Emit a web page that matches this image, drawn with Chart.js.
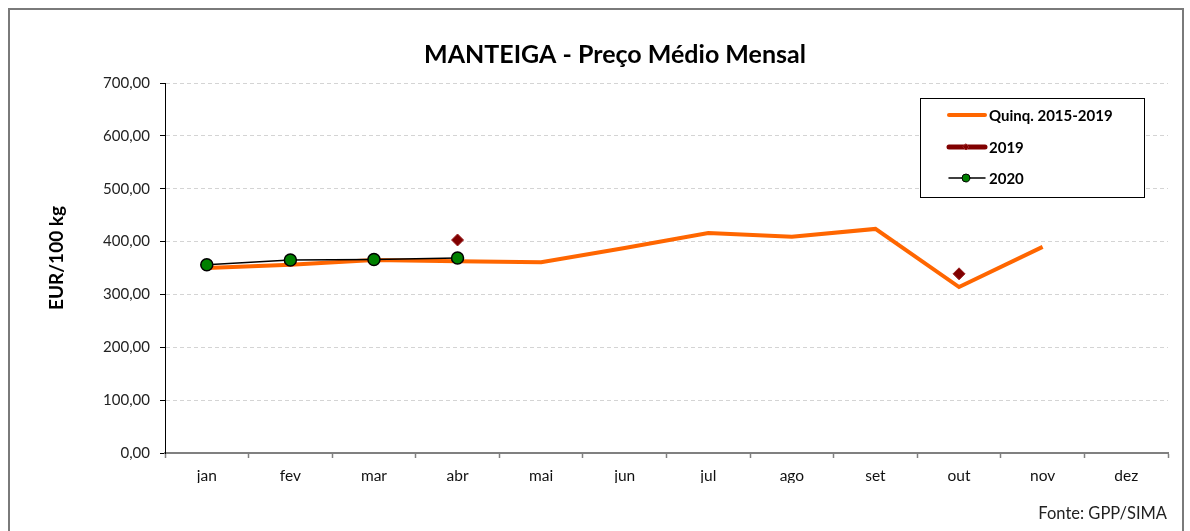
<!DOCTYPE html>
<html>
<head>
  <title>Manteiga - Preço Médio Mensal</title>
  <style>
    body { margin: 0; background: #fff; }
    #wrap { position: relative; width: 1190px; height: 531px; overflow: hidden; }
    #frame {
      position: absolute; left: 8px; top: 8px; width: 1176px; height: 560px;
      border: 2px solid #7a7a7a; box-sizing: border-box;
    }
    #canvas { position: absolute; left: 0; top: 0; }
  </style>
</head>
<body>
  <div id="wrap">
    <div id="frame"></div>
    <canvas id="canvas" width="1190" height="531"></canvas>
  </div>
  <script src="https://cdn.jsdelivr.net/npm/chart.js"></script>
  <script>
    const months = ['jan', 'fev', 'mar', 'abr', 'mai', 'jun', 'jul', 'ago', 'set', 'out', 'nov', 'dez'];
    // valores (EUR/100 kg)
    const quinq = [350, 356, 365, 363, 361, 388, 416, 409, 424, 314, 390, null];
    const y2019 = [null, null, null, 403, null, null, null, null, null, 339, null, null];
    const y2020 = [356, 365, 366, 369, null, null, null, null, null, null, null, null];
    const yTicks = [0, 100, 200, 300, 400, 500, 600, 700];

    const FONT = 'Lato, "Open Sans", sans-serif';
    const fmt = v => v.toFixed(2).replace('.', ',');

    // legenda, título e textos extra desenhados à mão
    const extras = {
      id: 'extras',
      afterDraw(chart) {
        const ctx = chart.ctx;
        ctx.save();
        ctx.fillStyle = '#000';
        ctx.font = 'bold 25px ' + FONT;
        ctx.textAlign = 'center';
        ctx.textBaseline = 'middle';
        ctx.fillText('MANTEIGA - Preço Médio Mensal', 615, 55);

        ctx.font = 'bold 19px ' + FONT;
        ctx.translate(57, 258);
        ctx.rotate(-Math.PI / 2);
        ctx.fillText('EUR/100 kg', 0, 0);
        ctx.setTransform(1, 0, 0, 1, 0, 0);

        ctx.font = '16.5px ' + FONT;
        ctx.textAlign = 'right';
        ctx.fillStyle = '#222';
        ctx.fillText('Fonte: GPP/SIMA', 1167, 514);

        // caixa da legenda
        ctx.fillStyle = '#fff';
        ctx.fillRect(920, 98, 224, 99);
        ctx.strokeStyle = '#000';
        ctx.lineWidth = 1;
        ctx.strokeRect(920.5, 98.5, 224, 99);

        const rows = [115, 147, 178];
        const ds = chart.data.datasets;
        ctx.font = 'bold 15px ' + FONT;
        ctx.textAlign = 'left';
        ds.forEach((d, i) => {
          const y = rows[i];
          ctx.lineCap = 'round';
          ctx.strokeStyle = d.legendColor;
          ctx.lineWidth = d.legendWidth;
          ctx.beginPath();
          ctx.moveTo(949, y);
          ctx.lineTo(985, y);
          ctx.stroke();
          if (d.pointRadius) {
            ctx.fillStyle = d.pointBackgroundColor;
            ctx.strokeStyle = d.pointBorderColor;
            ctx.lineWidth = 1;
            ctx.beginPath();
            if (d.pointStyle === 'rectRot') {
              ctx.moveTo(966, y - 3); ctx.lineTo(969, y); ctx.lineTo(966, y + 3); ctx.lineTo(963, y); ctx.closePath();
            } else {
              ctx.arc(966, y, 4, 0, Math.PI * 2);
            }
            ctx.fill();
            ctx.stroke();
          }
          ctx.fillStyle = '#000';
          ctx.fillText(d.label, 989, y + 1);
        });
        ctx.restore();
      }
    };

    const chart = new Chart(document.getElementById('canvas'), {
      type: 'line',
      data: {
        labels: months,
        datasets: [
          {
            label: 'Quinq. 2015-2019',
            data: quinq,
            borderColor: '#ff6600',
            borderWidth: 4,
            pointRadius: 0,
            legendColor: '#ff6600',
            legendWidth: 4,
            order: 3
          },
          {
            label: '2019',
            data: y2019,
            borderColor: '#800000',
            borderWidth: 5,
            pointStyle: 'rectRot',
            pointRadius: 6,
            pointBackgroundColor: '#800000',
            pointBorderColor: '#9b2020',
            pointBorderWidth: 1,
            legendColor: '#800000',
            legendWidth: 5,
            order: 2
          },
          {
            label: '2020',
            data: y2020,
            borderColor: '#000',
            borderWidth: 1.5,
            pointRadius: 6,
            pointBackgroundColor: '#008000',
            pointBorderColor: '#000',
            pointBorderWidth: 1.5,
            legendColor: '#000',
            legendWidth: 1.5,
            order: 1
          }
        ]
      },
      options: {
        responsive: false,
        animation: false,
        layout: { padding: { top: 83, right: 22, bottom: 48, left: 0 } },
        plugins: {
          legend: { display: false },
          title: { display: false },
          tooltip: { enabled: false }
        },
        scales: {
          x: {
            offset: true,
            grid: { offset: true, drawOnChartArea: false, drawTicks: true, tickLength: 5, tickColor: '#808080', tickWidth: 1.5 },
            border: { color: '#808080', width: 2 },
            ticks: { color: '#111', font: { family: FONT, size: 15.5 }, padding: 9 },
            afterFit(s) { s.height = 30; }
          },
          y: {
            min: 0,
            max: 700,
            afterBuildTicks(s) { s.ticks = yTicks.map(v => ({ value: v })); },
            grid: { color: '#d4d4d4', tickColor: '#000', tickLength: 5, lineWidth: 1 },
            border: { color: '#000', width: 1, dash: [4, 3] },
            ticks: { color: '#222', font: { family: FONT, size: 15 }, padding: 10, callback: v => fmt(v) },
            afterFit(s) { s.width = 165; }
          }
        }
      },
      plugins: [extras]
    });
  </script>
</body>
</html>
